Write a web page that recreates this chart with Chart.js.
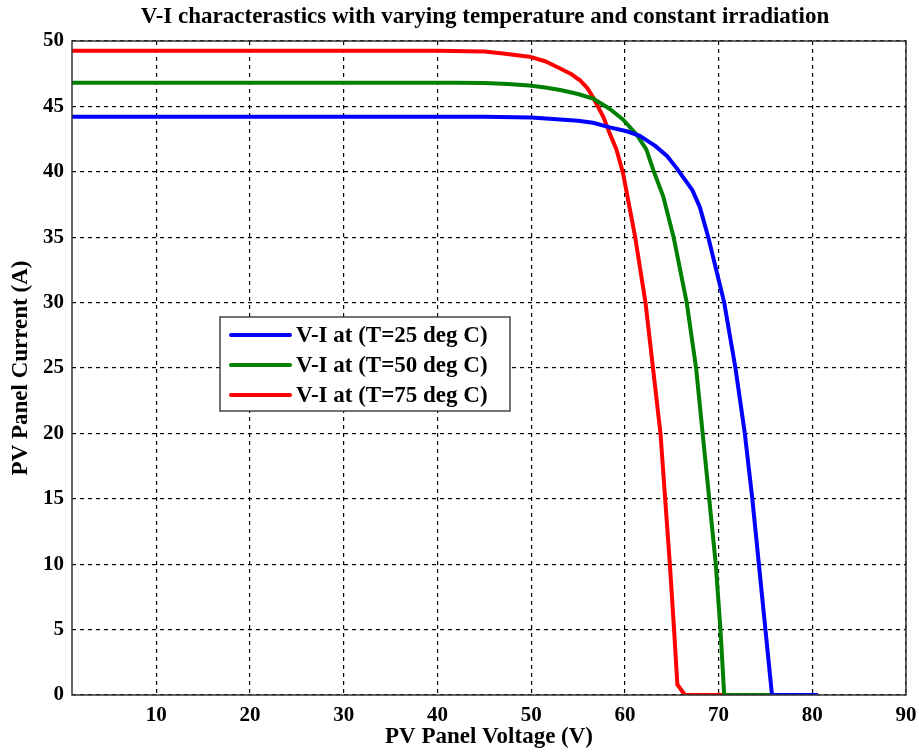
<!DOCTYPE html>
<html>
<head>
<meta charset="utf-8">
<script src="https://cdn.jsdelivr.net/npm/chart.js@4/dist/chart.umd.min.js"></script>
<style>
  body { margin: 0; background: #fff; }
  #wrap { width: 919px; height: 755px; }
</style>
</head>
<body>
<div id="wrap"><canvas id="myChart"></canvas></div>
<script>
// data (voltage in V, current in A)
var v25 = [1, 45, 50, 53.1, 55, 56.6, 58.4, 60.2, 61.6, 63.2, 64.5, 65.5, 66.5, 67.2, 68.0, 68.9, 70.6, 71.8, 72.8, 73.6, 74.3, 75.0, 75.7, 80.6];
var i25 = [44.2, 44.2, 44.15, 44.0, 43.9, 43.75, 43.4, 43.1, 42.75, 42.0, 41.2, 40.3, 39.3, 38.6, 37.3, 35, 30, 25, 20, 15, 10, 5, 0, 0];

var v50 = [1, 42, 45, 47.5, 49.8, 51.5, 53.1, 55, 56.6, 58.4, 59.8, 61.3, 62.3, 63.1, 64.1, 65.2, 66.6, 67.6, 68.3, 69.0, 69.7, 70.2, 70.6, 80.6];
var i50 = [46.8, 46.8, 46.78, 46.72, 46.6, 46.45, 46.25, 45.95, 45.6, 44.8, 44.0, 42.8, 41.7, 40, 38.1, 35, 30, 25, 20, 15, 10, 5, 0, 0];

var v75 = [1, 40, 45, 47, 49.8, 51.5, 53.1, 54.2, 55.2, 56.0, 56.6, 57.7, 58.4, 59.1, 59.8, 61.1, 62.2, 63.0, 63.8, 64.3, 64.8, 65.25, 65.6, 66.4, 80.6];
var i75 = [49.25, 49.25, 49.2, 49.05, 48.8, 48.45, 47.9, 47.5, 47.0, 46.4, 45.7, 44.2, 42.9, 41.7, 39.9, 35, 30, 25, 20, 15, 10, 5, 0.8, 0, 0];

var xTicks = [10, 20, 30, 40, 50, 60, 70, 80, 90];
var seriesLabels = ['V-I at (T=25 deg C)', 'V-I at (T=50 deg C)', 'V-I at (T=75 deg C)'];
var seriesColors = ['#0000ff', '#008000', '#ff0000'];

function toPoints(xs, ys) {
    return xs.map(function(x, k) { return {x: x, y: ys[k]}; });
}

var serif = '"Liberation Serif", "DejaVu Serif", serif';

// title, box border and legend drawn on the canvas
var extras = {
    id: 'extras',
    afterDraw: function(chart) {
        var ctx = chart.ctx, a = chart.chartArea;
        ctx.save();
        ctx.strokeStyle = '#333';
        ctx.lineWidth = 1.5;
        ctx.setLineDash([]);
        ctx.strokeRect(a.left, a.top, a.right - a.left, a.bottom - a.top);

        ctx.fillStyle = '#000';
        ctx.font = 'bold 23px ' + serif;
        ctx.textAlign = 'center';
        ctx.textBaseline = 'middle';
        ctx.fillText('V-I characterastics with varying temperature and constant irradiation', 485, 17);

        // legend box
        var bx = 220, by = 317, bw = 290, bh = 94;
        ctx.fillStyle = '#fff';
        ctx.fillRect(bx, by, bw, bh);
        ctx.strokeStyle = '#444';
        ctx.lineWidth = 1.5;
        ctx.strokeRect(bx, by, bw, bh);
        ctx.font = 'bold 23px ' + serif;
        ctx.textAlign = 'left';
        chart.data.datasets.forEach(function(ds, k) {
            var y = 335 + k * 30;
            ctx.strokeStyle = ds.borderColor;
            ctx.lineWidth = 4;
            ctx.lineCap = 'round';
            ctx.beginPath();
            ctx.moveTo(231, y);
            ctx.lineTo(290, y);
            ctx.stroke();
            ctx.fillStyle = '#000';
            ctx.fillText(ds.label, 296, y + 1);
        });
        ctx.restore();
    }
};

var ctx = document.getElementById('myChart').getContext('2d');
var chart = new Chart(ctx, {
    type: 'line',
    data: {
        datasets: [
            {label: seriesLabels[0], data: toPoints(v25, i25), borderColor: seriesColors[0]},
            {label: seriesLabels[1], data: toPoints(v50, i50), borderColor: seriesColors[1]},
            {label: seriesLabels[2], data: toPoints(v75, i75), borderColor: seriesColors[2]}
        ]
    },
    options: {
        responsive: true,
        maintainAspectRatio: false,
        animation: false,
        layout: {padding: {left: 0, top: 41, right: 13, bottom: 0}},
        elements: {
            line: {borderWidth: 4, tension: 0, fill: false, borderJoinStyle: 'round'},
            point: {radius: 0}
        },
        plugins: {
            legend: {display: false},
            tooltip: {enabled: false}
        },
        scales: {
            x: {
                type: 'linear',
                min: 1,
                max: 90,
                afterBuildTicks: function(scale) {
                    scale.ticks = xTicks.map(function(v) { return {value: v}; });
                },
                afterFit: function(scale) {
                    scale.height = 60;
                    scale.paddingRight = 0;
                },
                grid: {
                    color: '#000',
                    lineWidth: 1.2,
                    drawTicks: false
                },
                border: {display: false, dash: [4, 4]},
                ticks: {
                    color: '#000',
                    padding: 8,
                    font: {family: serif, size: 21, weight: 'bold'}
                },
                title: {
                    display: true,
                    text: 'PV Panel Voltage (V)',
                    color: '#000',
                    padding: {top: 2},
                    font: {family: serif, size: 23, weight: 'bold'}
                }
            },
            y: {
                min: 0,
                max: 50,
                ticks: {
                    stepSize: 5,
                    color: '#000',
                    padding: 8,
                    font: {family: serif, size: 21, weight: 'bold'}
                },
                afterFit: function(scale) { scale.width = 72; },
                grid: {
                    color: '#000',
                    lineWidth: 1.2,
                    drawTicks: false
                },
                border: {display: false, dash: [4, 4]},
                title: {
                    display: true,
                    text: 'PV Panel Current (A)',
                    color: '#000',
                    padding: {top: 7, bottom: 0},
                    font: {family: serif, size: 23, weight: 'bold'}
                }
            }
        }
    },
    plugins: [extras]
});
</script>
</body>
</html>
